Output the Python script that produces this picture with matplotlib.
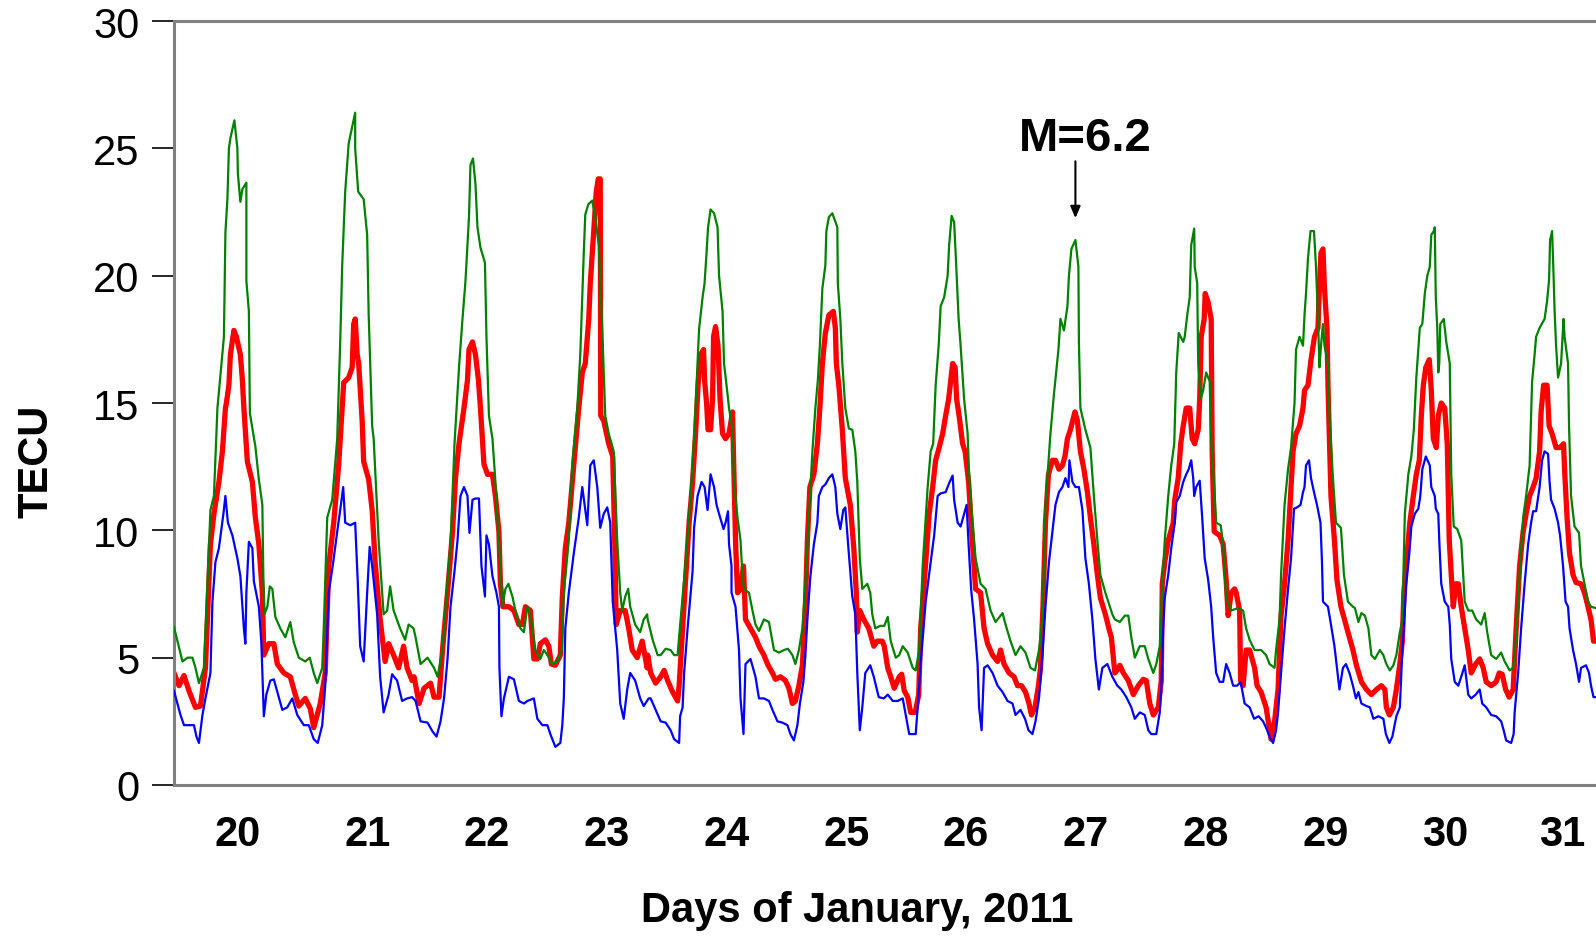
import matplotlib
matplotlib.use("Agg")
import matplotlib.pyplot as plt
import numpy as np

plt.rcParams['font.family'] = ['Liberation Sans', 'DejaVu Sans']

# time in hours from 20 January 2011 00:00 UT, values in TECU
green_h = [-2.7,-1.0,0,1.0,1.6,2.3,3.3,3.6,4.6,5.3,6.0,7.3,7.6,8.0,8.3,8.6,9.4,10.0,10.1,10.6,11.0,11.8,11.8,12.3,12.5,13.6,14.3,15.0,15.2,15.4,16.0,16.5,17.0,17.6,18.6,19.6,20.6,21.3,22.3,23.6,24.5,25.3,26.0,27.0,27.3,28.0,29.0,30.0,30.6,31.0,31.6,32.3,33.6,33.6,34.2,35.3,36.0,36.3,37.0,37.3,38.3,39.3,40.0,40.6,41.3,42.6,43.6,44.3,45.3,
           45.7,46.7,48.1,49.4,50.1,51.1,51.7,52.7,53.5,54.4,55.1,55.7,56.4,56.7,57.2,57.7,58.1,58.7,59.6,59.9,60.4,61.1,61.6,62.1,62.7,63.1,63.7,64.3,65.1,65.7,66.7,67.4,68.1,68.7,69.7,70.7,71.4,72.1,73.1,74.1,75.0,75.4,76.4,77.1,78.1,78.7,79.4,79.7,80.3,81.1,81.7,82.4,83.1,83.7,84.4,85.4,86.1,86.7,87.1,87.7,88.3,88.7,89.7,90.7,91.4,92.1,
           92.2,93.2,94.2,94.8,95.8,96.8,97.5,98.2,98.8,99.8,100.8,101.5,102.2,102.5,103.2,103.6,104.0,104.3,104.8,105.5,106.2,106.5,107.2,107.5,108.0,108.5,109.2,109.5,110.2,110.8,111.2,111.5,112.5,113.2,113.8,114.5,115.5,116.5,117.5,118.5,119.5,120.3,121.2,121.8,122.5,123.2,123.8,124.5,125.2,125.8,126.3,126.7,127.2,127.8,128.0,128.5,129.2,130.2,130.3,130.8,131.2,131.8,132.5,133.2,133.8,134.2,134.7,135.2,136.2,136.8,137.2,137.8,138.8,
           139.6,140.3,140.9,141.9,142.6,143.3,144.3,145.3,145.9,146.6,147.3,148.3,148.9,149.4,149.9,150.5,150.9,151.6,152.3,152.6,153.1,153.6,153.9,154.5,154.9,155.6,156.3,156.6,157.1,157.9,158.9,159.9,160.9,161.9,163.3,163.9,164.9,165.9,166.9,167.9,168.9,169.8,170.6,171.3,171.9,172.9,173.6,174.5,174.9,175.6,176.3,176.6,177.1,177.9,178.5,178.6,178.9,179.9,180.9,181.6,182.3,182.9,183.9,185.3,
           185.8,186.8,187.8,188.5,189.1,189.8,190.8,191.8,192.5,193.5,194.1,194.8,195.3,195.8,196.5,197.1,197.7,198.1,198.6,199.5,199.8,200.3,200.8,201.1,201.7,201.8,202.3,202.5,203.0,203.5,204.1,204.8,205.1,205.7,206.1,207.0,207.5,208.1,209.1,210.5,211.5,212.1,212.8,213.8,215.1,216.1,216.8,217.8,218.1,218.8,219.1,219.8,220.5,221.1,221.8,222.1,222.8,223.5,223.8,224.1,224.5,225.0,225.7,226.1,226.5,226.8,227.1,227.5,227.8,228.5,228.8,229.5,230.1,231.1,231.7,232.5,233.5,
           233.9,234.6,235.2,235.9,236.6,237.2,237.9,238.9,239.6,240.2,240.9,241.6,242.2,242.9,243.4,243.9,244.6,245.2,245.7,246.2,246.9,247.4,247.9,248.4,248.9,249.2,249.7,249.9,250.1,250.4,250.6,250.8,251.0,251.7,252.2,252.9,253.2,253.7,254.4,255.2,255.9,256.6,257.4,258.2,259.2,259.9,260.4,261.2,262.2,263.2,263.9,264.9,265.6,266.2,266.9,267.6,268.2,268.9,269.4,269.9,270.2,270.9,271.9,272.4,272.8,273.0,273.4,273.7,273.9,274.2,274.6,275.2,275.7,275.9,276.6,276.8,277.2,277.9,278.8,279.2,279.9,280.6,281.2,282.1]
green_v = [6.2,4.85,5.0,5.0,4.6,4.0,4.6,6.0,10.8,11.35,14.8,17.6,21.7,23.0,25.0,25.4,26.1,25.0,24.0,22.9,23.4,23.65,19.8,18.6,14.6,13.3,12.0,11.0,8.2,6.7,7.0,7.8,7.7,6.6,6.15,5.8,6.4,5.6,5.0,4.85,5.0,4.4,4.0,4.6,6.15,10.5,11.2,13.6,17.4,20.4,23.3,25.2,26.4,25.0,23.3,23.0,21.6,18.5,14.1,13.6,9.6,6.7,6.85,7.8,6.85,6.15,5.7,6.3,6.15,
           5.8,4.75,5.0,4.6,4.25,5.3,7.0,9.45,13.4,16.4,18.3,19.8,22.3,24.35,24.6,23.6,21.9,21.1,20.5,17.6,14.5,13.6,12.2,10.5,8.6,7.0,7.7,7.9,7.4,6.85,6.15,6.0,7.0,6.7,5.3,4.95,5.3,5.1,4.75,4.85,5.3,7.55,9.6,12.6,14.8,16.9,20.9,22.4,22.8,22.95,22.3,21.2,17.95,14.5,13.8,13.1,9.6,7.55,6.85,7.4,7.7,7.0,6.3,6.0,6.5,6.7,
           6.5,5.7,5.1,5.1,5.35,5.3,5.1,5.1,6.5,8.75,11.35,13.6,16.55,17.9,19.15,19.7,20.9,21.9,22.6,22.45,21.9,20.0,18.6,16.55,15.7,14.8,13.95,11.9,10.5,9.6,8.2,7.7,7.55,6.85,6.3,6.05,6.5,6.4,5.3,5.2,5.3,5.35,5.1,4.75,5.3,6.15,7.9,10.5,13.1,14.8,15.9,17.25,19.5,20.4,21.75,22.3,22.45,21.9,19.7,18.3,16.55,14.8,14.0,13.95,13.1,11.9,8.9,7.7,7.9,7.55,6.7,6.15,6.25,
           6.25,6.6,5.65,5.0,5.1,5.45,5.2,4.6,4.5,5.3,8.6,11.7,13.1,13.4,15.7,17.25,18.8,19.15,20.0,21.2,22.35,22.1,20.9,18.3,17.25,15.15,13.8,12.2,10.8,8.9,7.9,7.7,6.85,6.4,6.75,6.3,5.65,5.1,5.45,5.2,4.6,4.5,5.3,6.5,11.0,13.8,15.35,17.1,18.3,17.85,18.8,20.0,21.05,21.4,20.35,17.4,14.8,13.95,13.25,11.35,9.6,8.25,7.55,6.7,
           6.5,6.4,6.65,6.65,5.8,5.0,5.45,5.45,4.95,4.4,4.75,5.45,7.9,9.6,11.35,12.55,13.4,16.2,17.75,17.4,17.6,18.45,19.15,21.2,21.85,20.35,19.7,16.55,15.15,15.5,16.2,15.85,13.6,11.7,10.3,10.2,9.45,7.35,6.85,6.95,6.85,6.15,5.7,5.3,5.3,5.1,4.75,4.6,5.3,6.5,8.25,11.0,12.4,13.25,15.0,17.1,17.6,17.25,18.45,19.3,20.7,21.75,21.75,20.35,18.3,16.4,17.25,18.1,17.25,16.55,14.5,12.05,10.3,10.1,8.25,7.2,7.0,
           6.95,6.4,6.75,6.65,6.15,5.1,4.95,5.3,5.1,4.75,4.5,4.7,5.1,6.0,6.5,10.65,12.2,12.9,13.95,16.0,17.95,18.1,19.3,20.0,20.35,21.6,21.75,21.9,19.15,17.95,16.2,16.55,18.1,18.3,17.4,16.55,12.2,10.15,10.05,9.6,7.2,6.85,6.85,6.5,6.3,6.75,6.0,5.1,4.95,5.2,4.85,4.5,4.6,5.8,8.25,10.5,11.35,12.55,15.85,16.9,17.6,17.95,18.3,19.0,19.85,21.4,21.75,20.0,18.65,17.25,16.0,16.55,18.3,17.6,16.55,14.1,11.35,10.15,9.9,8.6,7.9,7.2,7.0,6.95]

red_h = [-2.7,-1.7,-0.7,0.3,1.6,2.6,3.6,4.6,5.3,6.3,7.0,7.6,7.8,8.3,8.6,9.3,9.8,10.6,11.0,11.3,12.0,13.0,13.6,14.3,15.0,15.3,16.3,17.3,18.0,19.3,20.6,21.6,22.3,23.6,24.6,25.3,26.6,27.6,28.3,29.3,30.3,31.0,31.3,32.3,33.0,33.3,33.6,34.0,34.3,35.0,35.3,36.3,37.0,37.6,38.6,39.6,40.3,41.3,42.3,43.3,44.0,45.0,
         45.4,46.4,47.4,48.7,49.4,50.4,51.1,52.1,53.1,53.7,54.4,55.4,56.1,56.4,57.1,57.7,58.3,58.7,59.4,60.1,61.1,61.7,62.4,62.7,63.2,64.4,65.4,66.4,67.1,67.7,68.7,69.4,70.1,70.7,71.7,72.4,72.9,73.7,74.7,75.1,75.7,76.4,77.1,77.7,78.4,79.1,79.7,80.4,80.7,81.4,81.9,82.3,82.7,82.8,83.4,84.4,85.2,85.6,85.9,86.7,87.7,88.4,89.1,90.1,91.1,92.1,
         92.2,92.8,93.8,94.8,95.5,96.2,97.2,98.2,98.5,99.2,99.8,100.5,101.2,101.8,102.3,102.8,103.4,103.6,104.0,104.3,104.8,105.2,105.4,105.8,106.3,106.7,107.2,107.8,108.5,109.2,109.5,109.8,110.2,110.8,111.4,111.8,112.8,113.8,114.5,115.5,116.2,117.2,117.8,118.8,119.8,120.5,121.2,121.8,122.5,123.2,123.8,124.2,124.7,125.5,126.2,126.7,127.2,127.8,128.5,129.4,129.8,130.0,130.5,131.2,131.8,132.8,133.5,134.0,134.2,134.7,135.5,136.5,137.5,138.2,139.2,
         139.6,140.3,140.9,141.6,142.6,143.1,143.6,144.3,144.9,145.8,146.5,146.9,147.6,148.6,149.3,149.9,150.6,151.3,151.9,152.5,152.9,153.3,153.8,154.1,154.6,155.3,155.8,156.5,157.0,157.6,157.9,158.9,159.6,160.3,161.3,162.3,162.9,163.6,164.6,165.6,166.3,167.1,167.9,168.6,169.1,169.8,170.5,170.9,171.4,171.9,172.5,173.3,173.9,174.6,175.3,175.8,176.3,176.9,177.8,178.3,178.9,179.6,180.3,180.9,181.6,182.3,182.9,183.9,184.6,185.1,185.8,186.6,
         186.8,187.5,188.5,189.5,190.5,191.5,192.1,192.8,193.5,194.5,195.1,195.3,195.8,196.5,197.5,197.8,198.5,199.0,199.5,200.1,200.8,201.3,201.8,202.5,202.8,203.1,203.7,203.9,204.5,205.1,205.3,205.7,206.8,207.5,208.1,208.5,209.1,209.8,210.1,210.8,211.0,211.5,212.1,212.8,213.8,214.3,215.1,216.1,217.1,217.8,218.5,219.1,219.8,220.5,221.0,221.5,222.1,222.8,223.5,223.8,224.5,225.1,225.8,226.5,226.8,227.1,227.5,227.8,228.3,228.5,229.1,229.8,230.3,231.1,231.8,232.5,233.5,
         234.2,235.2,236.2,237.2,238.2,239.2,239.9,240.2,240.8,241.6,242.2,242.9,243.4,243.7,244.2,244.9,245.6,246.2,246.8,247.2,247.6,248.1,248.8,249.2,249.6,250.2,250.6,251.2,251.9,252.4,252.8,253.2,253.6,254.1,254.6,255.2,255.9,256.6,257.2,258.1,258.9,259.6,260.2,261.2,262.2,262.8,263.4,264.1,264.8,265.6,266.2,266.9,267.6,268.2,268.9,269.6,270.2,270.9,271.2,271.7,272.4,272.8,273.4,274.2,275.0,275.7,275.9,276.4,276.9,277.6,278.2,279.2,279.9,280.6,281.2,281.7,282.1]
red_v = [4.4,3.9,4.3,3.7,3.05,3.1,4.6,9.45,10.65,11.9,13.1,14.8,15.0,15.7,16.9,17.85,17.6,16.9,15.9,14.8,12.7,11.9,10.5,9.45,7.55,5.1,5.55,5.55,4.75,4.4,4.25,3.55,3.1,3.4,3.0,2.25,3.2,4.4,8.6,10.3,12.6,14.8,15.8,16.0,16.4,18.1,18.3,16.9,16.55,14.3,12.7,12.0,10.8,8.75,6.5,4.85,5.55,5.1,4.6,5.45,4.6,4.1,
         4.25,3.2,3.8,4.0,3.45,3.45,5.3,7.55,9.95,12.05,13.4,14.8,15.9,17.1,17.4,16.9,15.9,14.8,12.6,12.2,12.2,11.35,9.95,7.9,7.0,7.0,6.85,6.3,6.3,7.0,6.85,4.95,4.95,5.55,5.7,5.45,4.75,4.7,5.1,7.4,9.3,10.3,11.9,13.25,14.8,16.2,16.55,18.3,19.7,21.75,23.3,23.8,23.8,14.5,14.3,13.4,12.9,9.6,6.3,6.85,6.85,6.15,5.3,5.0,5.65,4.6,
         5.1,4.4,4.0,4.25,4.5,4.1,3.65,3.3,3.9,6.15,8.05,10.3,11.9,13.8,15.7,16.9,17.1,15.9,15.0,13.95,13.95,15.15,17.6,18.0,17.25,15.15,13.8,13.6,13.8,14.65,12.2,9.6,7.55,7.7,8.6,6.5,6.15,5.8,5.45,5.1,4.75,4.4,4.15,4.25,4.1,3.8,3.2,3.3,3.9,4.7,7.0,9.6,11.7,12.2,13.4,14.8,16.55,17.75,18.45,18.6,17.95,16.55,15.7,13.95,12.05,11.0,9.3,7.55,6.0,6.85,6.5,6.15,5.45,5.65,5.65,
         5.45,4.6,4.25,3.8,4.25,4.35,3.7,3.45,2.85,2.85,3.55,6.15,7.9,10.65,11.7,12.75,13.25,13.8,14.5,15.15,15.85,16.55,16.4,15.15,14.5,13.4,13.1,11.9,10.3,8.6,7.7,7.55,6.15,5.55,5.1,4.85,5.3,4.75,4.4,4.25,3.9,3.9,3.65,3.2,2.75,3.05,3.9,4.6,7.0,10.3,12.2,12.75,12.75,12.4,12.55,12.9,13.6,13.95,14.65,14.3,13.1,12.4,11.5,10.5,9.45,8.25,7.35,6.7,6.15,5.8,4.4,4.6,
         4.7,4.4,4.1,3.55,3.9,4.15,4.1,3.2,2.75,3.05,4.1,7.9,8.75,9.6,10.3,11.2,12.05,13.4,14.1,14.8,14.8,13.6,13.4,13.95,15.15,17.6,18.3,19.3,18.95,18.3,13.1,9.95,9.8,9.45,8.05,6.65,7.55,7.7,7.55,6.85,4.1,3.9,5.3,5.3,4.6,3.9,3.65,3.05,1.8,2.5,3.75,6.65,7.9,9.6,11.35,13.1,13.8,14.1,14.8,15.5,15.7,16.7,17.6,17.95,19.65,20.9,21.05,19.5,17.95,15.7,11.35,9.6,8.05,7.0,6.5,6.0,5.3,
         4.7,4.05,3.75,3.55,3.75,3.9,3.75,3.05,2.75,3.05,3.75,4.75,5.65,7.55,8.75,10.3,11.35,12.2,12.75,14.5,15.7,16.4,16.7,15.5,13.6,13.25,14.5,15.0,14.8,13.4,9.6,8.25,7.0,7.9,7.9,7.0,6.15,5.3,4.4,4.75,4.95,4.6,4.05,3.9,4.05,4.4,4.35,3.75,3.45,3.75,6.15,8.6,9.95,10.65,11.35,11.7,12.05,13.1,14.65,15.7,15.7,14.1,13.8,13.25,13.25,13.4,12.4,10.5,9.1,8.25,7.95,7.9,7.55,7.0,6.5,5.65,5.65]

blue_h = [-2.7,-1.4,-0.7,1.3,1.8,2.3,3.0,3.6,4.6,5.0,5.6,6.3,7.2,7.6,8.1,9.0,10.0,10.6,11.3,11.6,11.8,12.3,13.0,13.3,14.3,14.8,15.0,15.3,15.8,16.6,17.3,18.3,19.0,20.0,21.0,22.0,23.3,24.3,25.3,26.1,27.0,27.6,28.3,29.2,30.0,30.6,31.2,31.6,32.6,33.6,34.1,34.6,35.3,36.0,36.5,37.0,38.0,38.6,39.3,40.3,41.0,42.0,43.0,44.0,45.0,
          45.7,46.7,48.1,49.1,49.9,50.7,51.4,52.1,52.7,53.5,54.1,54.7,55.4,56.1,56.5,57.1,57.7,58.4,58.9,59.6,59.9,60.4,61.1,61.9,62.4,62.5,62.9,63.4,64.4,65.4,66.4,67.4,68.1,69.4,70.1,71.1,72.1,72.7,73.7,74.7,75.1,75.4,75.7,76.4,77.4,78.4,79.1,79.7,80.1,80.7,81.4,82.1,82.7,83.4,84.1,84.7,85.2,86.1,86.7,87.4,88.1,88.7,89.7,90.7,91.4,92.4,
          92.8,93.8,94.8,95.8,96.8,97.5,98.5,98.7,99.2,99.5,100.2,101.2,101.5,102.2,103.0,103.6,104.2,104.8,105.5,106.0,106.5,107.4,107.8,108.3,108.5,109.0,109.0,109.8,110.5,110.8,111.4,111.8,112.8,113.8,114.5,115.5,116.5,117.2,118.2,119.2,120.2,120.8,121.5,122.2,122.7,123.4,123.8,124.2,124.8,125.5,126.2,126.5,127.2,127.8,128.5,129.2,129.8,130.2,130.8,131.4,131.8,132.5,133.2,133.8,134.2,134.7,135.2,135.8,136.8,137.5,138.5,139.5,
          140.3,141.3,142.3,143.3,143.9,144.6,145.9,146.3,146.9,147.9,148.9,149.6,150.3,150.9,151.9,152.7,153.3,153.6,154.3,154.9,155.6,156.1,156.5,157.0,157.6,158.3,158.6,159.1,159.6,160.3,161.3,162.3,163.3,164.3,165.3,165.9,166.9,167.8,168.5,169.3,169.9,170.6,171.3,171.9,172.6,173.3,173.9,174.6,175.3,175.9,176.5,176.7,177.3,177.9,178.6,179.3,179.9,180.6,181.3,181.9,182.6,183.3,184.3,185.3,186.3,
          187.1,188.1,189.1,189.8,190.8,191.8,192.5,193.1,194.1,194.8,195.1,195.5,195.8,196.5,197.1,197.8,198.1,198.8,199.5,200.1,200.6,201.1,201.5,201.7,202.1,202.8,203.3,203.8,204.5,205.1,205.5,206.1,206.8,207.5,208.1,208.8,209.5,210.3,211.0,211.8,212.8,213.7,214.6,215.5,216.1,216.8,217.5,218.1,218.5,219.1,219.8,220.5,221.1,221.7,222.3,223.0,223.5,223.8,224.1,224.7,225.1,225.7,226.3,227.0,227.3,227.5,228.5,229.1,229.8,230.3,230.8,231.5,232.1,232.8,233.5,
          234.1,234.6,235.2,236.2,236.9,237.6,238.6,239.6,240.1,240.8,241.4,242.2,242.9,243.4,243.7,244.2,244.8,245.2,245.9,246.6,247.0,247.4,248.1,248.9,249.2,249.9,250.1,250.6,250.8,251.2,251.9,252.6,252.9,253.2,253.9,254.6,255.2,255.9,256.6,257.2,258.1,258.9,259.4,260.2,261.2,262.2,263.2,263.7,264.2,265.2,265.7,265.9,266.6,267.2,267.9,268.6,269.2,269.6,270.2,270.9,271.4,271.9,272.6,272.9,273.2,273.9,274.6,275.0,275.6,276.1,276.6,276.9,277.6,278.2,278.8,279.2,280.2,280.8,281.2,281.7,282.1]
blue_v = [3.7,2.75,2.35,2.35,1.9,1.65,2.75,3.4,4.4,7.2,8.75,9.3,10.65,11.35,10.3,9.8,8.9,8.2,6.15,5.55,7.55,9.55,9.3,8.0,7.0,5.6,4.4,2.7,3.55,4.1,4.15,3.45,2.95,3.05,3.4,2.75,2.35,2.35,1.8,1.65,2.35,3.9,7.55,8.75,9.95,10.8,11.7,10.3,10.2,10.3,8.05,5.45,4.85,7.55,9.35,8.6,6.7,4.25,2.85,3.55,4.35,4.1,3.3,3.4,3.45,
          3.3,2.5,2.45,2.1,1.9,2.5,3.4,4.95,7.0,8.4,9.6,11.35,11.7,11.35,9.9,11.2,11.25,11.25,8.6,7.4,9.8,9.45,8.2,7.55,7.0,4.6,2.7,3.4,4.25,4.15,3.3,3.2,3.3,3.4,2.6,2.35,2.35,2.0,1.5,1.65,2.35,3.4,6.15,7.55,9.1,10.5,11.7,10.8,10.2,12.55,12.75,11.7,10.1,10.65,10.9,10.3,7.2,5.3,3.2,2.6,3.75,4.4,4.1,3.4,3.1,3.4,
          3.4,2.95,2.5,2.45,2.15,1.8,1.65,2.7,3.05,4.4,6.15,8.4,10.1,11.35,11.9,11.7,10.8,12.2,11.7,11.0,10.65,10.05,10.3,10.75,9.45,8.6,7.55,7.0,5.3,3.4,2.0,4.75,4.95,4.25,3.4,3.4,3.3,2.95,2.5,2.45,2.35,2.0,1.75,2.35,3.2,4.05,5.1,6.5,8.2,9.45,10.3,11.35,11.7,11.8,12.05,12.2,11.7,10.65,10.05,10.8,10.9,9.1,7.4,6.7,4.4,2.15,3.05,4.4,4.7,4.25,3.45,3.4,
          3.55,3.3,3.3,3.4,2.75,2.0,2.0,3.05,4.75,7.2,8.75,9.8,11.35,11.45,11.5,11.9,12.15,11.2,10.3,10.15,10.65,11.0,9.45,7.7,6.5,4.75,3.05,2.15,4.6,4.7,4.4,3.9,3.65,3.3,3.2,2.75,2.95,2.6,2.15,2.0,2.5,3.4,5.1,7.0,8.75,9.95,11.0,11.5,11.7,12.05,11.7,12.75,11.9,11.7,11.7,10.8,8.9,7.9,6.5,4.95,3.75,4.6,4.75,4.25,3.9,
          3.75,3.45,3.05,2.6,2.85,2.75,2.15,2.0,2.0,2.85,3.75,6.15,7.35,8.25,9.3,10.3,11.1,11.35,11.9,12.2,12.4,12.75,12.05,11.35,11.7,11.95,10.5,8.9,8.05,7.0,5.8,4.4,4.05,4.05,4.75,4.4,3.9,3.9,4.05,3.2,3.05,2.6,2.7,2.5,2.25,1.9,1.65,2.15,2.85,4.4,6.15,7.7,8.9,10.85,10.9,11.0,11.5,11.7,12.55,12.75,12.05,11.5,11.0,10.3,8.75,7.2,7.0,6.3,5.45,4.6,3.75,4.6,4.75,4.4,3.9,
          3.4,3.65,3.2,3.1,3.05,2.6,2.7,2.6,2.0,1.65,1.9,2.7,3.05,5.3,6.15,7.9,9.1,10.15,10.65,10.85,11.35,12.4,12.9,12.55,11.7,11.35,10.85,10.65,9.6,7.9,7.2,7.0,6.3,4.95,4.05,3.9,4.25,4.7,3.55,3.4,3.55,3.75,3.2,3.05,2.75,2.7,2.5,2.15,1.75,1.65,2.0,2.85,4.4,6.15,7.9,9.45,10.3,10.75,10.75,11.7,12.75,13.1,13.0,11.9,11.2,10.85,10.3,9.8,8.6,7.2,7.0,6.15,5.3,4.75,4.05,4.6,4.7,4.4,3.9,3.45,3.45]

day_labels = ['20', '21', '22', '23', '24', '25', '26', '27', '28', '29', '30', '31']
day_label_pos = [20.42, 21.5, 22.5, 23.5, 24.5, 25.5, 26.5, 27.5, 28.5, 29.5, 30.5, 31.48]
y_ticks = [0, 5, 10, 15, 20, 25, 30]
quake_label = 'M=6.2'
quake_hour = 177.9


def to_day(h):
    return 20 + np.asarray(h, dtype=float) / 24.0


fig = plt.figure(figsize=(15.96, 9.37), dpi=100)
ax = fig.add_axes([174 / 1596, 151 / 937, 1 - 174 / 1596, 764 / 937])

ax.plot(to_day(red_h), red_v, color='#ff0000', lw=3.8, zorder=2, solid_joinstyle='round')
ax.plot(to_day(green_h), green_v, color='#008000', lw=1.6, zorder=3)
ax.plot(to_day(blue_h), blue_v, color='#0000ff', lw=1.6, zorder=4)

ax.set_xlim(to_day(-2.7), to_day(282.2))
ax.set_ylim(0, 30)
ax.set_yticks(y_ticks)
ax.set_yticklabels([str(t) for t in y_ticks], fontsize=30)
ax.tick_params(axis='y', direction='out', length=16, width=1.2, color='black', pad=9)
ax.set_xticks(day_label_pos)
ax.set_xticklabels(day_labels, fontsize=30, fontweight='bold')
ax.tick_params(axis='x', length=0, pad=21)

for side in ['left', 'top', 'bottom']:
    ax.spines[side].set_color('#808080')
    ax.spines[side].set_linewidth(2.2)
ax.spines['right'].set_visible(False)

qx = to_day(quake_hour)
ax.annotate('', xy=(qx, 22.15), xytext=(qx, 24.6),
            arrowprops=dict(arrowstyle='-|>,head_length=0.7,head_width=0.3', color='black', lw=1.5),
            annotation_clip=False)
ax.text(qx + 0.085, 25.4, quake_label, fontsize=34, fontweight='bold', ha='center', va='center')

fig.text(857 / 1596, 1 - 911 / 937, 'Days of January, 2011', fontsize=30, fontweight='bold', ha='center', va='center')
fig.text(36 / 1596, 1 - 461 / 937, 'TECU', fontsize=30, fontweight='bold', ha='center', va='center', rotation=90)

fig.savefig('out.png', dpi=100)
